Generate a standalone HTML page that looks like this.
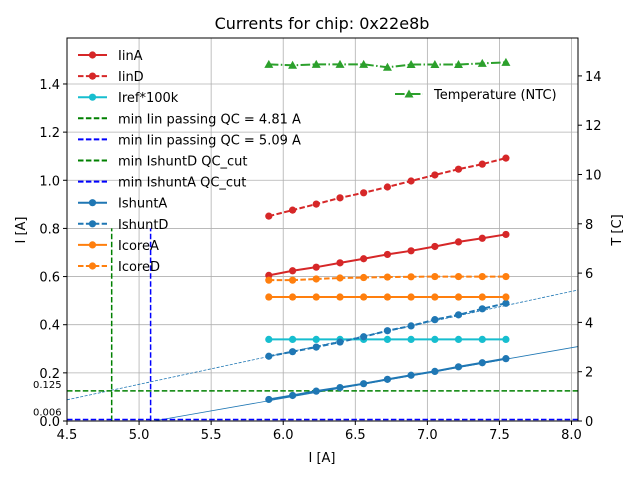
<!DOCTYPE html>
<html><head><meta charset="utf-8"><style>
body{margin:0;background:#fff}
svg text{font-family:"DejaVu Sans","Liberation Sans",sans-serif;fill:#000}
</style></head><body>
<svg id="chart" width="640" height="480" xmlns="http://www.w3.org/2000/svg"></svg>
<script>
const xs=[5.90,6.065,6.229,6.394,6.558,6.723,6.887,7.052,7.216,7.381,7.545];
const iinA=[0.605,0.624,0.639,0.657,0.674,0.692,0.707,0.725,0.744,0.759,0.775];
const iinD=[0.851,0.876,0.901,0.927,0.948,0.972,0.997,1.022,1.046,1.067,1.092];
const iref=[0.339,0.339,0.339,0.339,0.339,0.339,0.339,0.339,0.339,0.339,0.339];
const ishuntA=[0.0895,0.106,0.124,0.139,0.155,0.173,0.190,0.206,0.225,0.242,0.259];
const ishuntD=[0.269,0.288,0.307,0.328,0.350,0.375,0.395,0.421,0.441,0.466,0.489];
const icoreA=[0.515,0.515,0.515,0.515,0.515,0.515,0.515,0.515,0.515,0.515,0.515];
const icoreD=[0.585,0.585,0.59,0.594,0.596,0.598,0.599,0.6,0.6,0.6,0.6];
const temp=[14.47,14.43,14.47,14.47,14.47,14.35,14.46,14.46,14.46,14.51,14.55];
const xTicks=[4.5,5.0,5.5,6.0,6.5,7.0,7.5,8.0];
const yTicks=[0,0.2,0.4,0.6,0.8,1.0,1.2,1.4];
const tTicks=[0,2,4,6,8,10,12,14];
const fitA=[0.105,-0.5355];
const fitD=[0.1287,-0.4912];
const qcX=[4.81,5.08];
const qcY=[0.125,0.006];

const L=67,R=578,T=38,B=421;
const X=v=>L+(v-4.5)*(R-L)/(8.045-4.5);
const Y=v=>B-v*(B-T)/1.591;
const YT=v=>B-v*24.65;
const svg=document.getElementById('chart');
const NS='http://www.w3.org/2000/svg';
function el(tag,at,name,parent){const e=document.createElementNS(NS,tag);for(const k in at)e.setAttribute(k,at[k]);


(parent||svg).appendChild(e);return e;}
function txt(s,x,y,name,extra){const e=el('text',Object.assign({x:x,y:y,'font-size':13},extra||{}),name);e.textContent=s;return e;}

xTicks.forEach(v=>el('line',{x1:X(v),x2:X(v),y1:T,y2:B,stroke:'#b0b0b0','stroke-width':0.8},'x-grid-line'));
yTicks.forEach(v=>el('line',{x1:L,x2:R,y1:Y(v),y2:Y(v),stroke:'#b0b0b0','stroke-width':0.8},'y-grid-line'));

el('line',{x1:X(5.1),y1:Y(fitA[0]*5.1+fitA[1]),x2:X(8.045),y2:Y(fitA[0]*8.045+fitA[1]),stroke:'#1f77b4','stroke-width':0.8},'ishuntA-fit');
el('line',{x1:X(4.5),y1:Y(fitD[0]*4.5+fitD[1]),x2:X(8.045),y2:Y(fitD[0]*8.045+fitD[1]),stroke:'#1f77b4','stroke-width':0.8,'stroke-dasharray':'3,1.5'},'ishuntD-fit');

el('line',{x1:X(qcX[0]),x2:X(qcX[0]),y1:B,y2:Y(0.8),stroke:'green','stroke-width':1.5,'stroke-dasharray':'5.5,2.4'},'qc-vline-green');
el('line',{x1:X(qcX[1]),x2:X(qcX[1]),y1:B,y2:Y(0.8),stroke:'blue','stroke-width':1.5,'stroke-dasharray':'5.5,2.4'},'qc-vline-blue');
el('line',{x1:L,x2:R,y1:Y(qcY[0]),y2:Y(qcY[0]),stroke:'green','stroke-width':1.5,'stroke-dasharray':'5.5,2.4'},'qc-hline-green');
el('line',{x1:L,x2:R,y1:Y(qcY[1]),y2:Y(qcY[1]),stroke:'blue','stroke-width':1.5,'stroke-dasharray':'5.5,2.4'},'qc-hline-blue');
txt('0.125',33,Y(qcY[0])-3,'qc-label-0125',{'font-size':10});
txt('0.006',33,Y(qcY[1])-4,'qc-label-0006',{'font-size':10});

function series(vals,color,dash,name,yf,marker){
  const pts=xs.map((x,i)=>X(x)+','+yf(vals[i])).join(' ');
  el('polyline',{points:pts,fill:'none',stroke:color,'stroke-width':2,'stroke-dasharray':dash||'none'},name+'-line');
  xs.forEach((x,i)=>{
    if(marker==='tri'){const cx=X(x),cy=yf(vals[i]);el('polygon',{points:`${cx},${cy-4.5} ${cx-4.5},${cy+3.5} ${cx+4.5},${cy+3.5}`,fill:color},name+'-point');}
    else el('circle',{cx:X(x),cy:yf(vals[i]),r:3.6,fill:color},name+'-point');
  });
}
series(iinA,'#d62728','', 'iinA',Y);
series(iinD,'#d62728','5.5,2.4','iinD',Y);
series(iref,'#17becf','', 'iref',Y);
series(ishuntA,'#1f77b4','', 'ishuntA',Y);
series(ishuntD,'#1f77b4','5.5,2.4','ishuntD',Y);
series(icoreA,'#ff7f0e','', 'icoreA',Y);
series(icoreD,'#ff7f0e','5.5,2.4','icoreD',Y);
series(temp,'#2ca02c','9.6,2.4,1.5,2.4','temperature',YT,'tri');

el('rect',{x:L,y:T,width:R-L,height:B-T,fill:'none',stroke:'#000','stroke-width':1},'plot-frame');
xTicks.forEach(v=>{el('line',{x1:X(v),x2:X(v),y1:B,y2:B+4,stroke:'#000'},'x-tick');txt(v.toFixed(1),X(v),B+18,'x-tick-label',{'text-anchor':'middle'});});
yTicks.forEach(v=>{el('line',{x1:L-4,x2:L,y1:Y(v),y2:Y(v),stroke:'#000'},'y-tick');txt(v.toFixed(1),L-7,Y(v)+5,'y-tick-label',{'text-anchor':'end'});});
tTicks.forEach(v=>{el('line',{x1:R,x2:R+4,y1:YT(v),y2:YT(v),stroke:'#000'},'t-tick');txt(String(v),R+7,YT(v)+5,'t-tick-label');});

txt('Currents for chip: 0x22e8b',322,29,'chart-title',{'text-anchor':'middle','font-size':16});
txt('I [A]',322,462,'x-axis-title',{'text-anchor':'middle'});
txt('I [A]',25,230,'y-axis-title',{'text-anchor':'middle',transform:'rotate(-90 25 230)'});
txt('T [C]',621,230,'t-axis-title',{'text-anchor':'middle',transform:'rotate(-90 621 230)'});

const legNames=['IinA','IinD','Iref*100k','min Iin passing QC = 4.81 A','min Iin passing QC = 5.09 A','min IshuntD QC_cut','min IshuntA QC_cut','IshuntA','IshuntD','IcoreA','IcoreD'];
const legColors=['#d62728','#d62728','#17becf','green','blue','green','blue','#1f77b4','#1f77b4','#ff7f0e','#ff7f0e'];
const legDash=['','5.5,2.4','','5.5,2.4','5.5,2.4','5.5,2.4','5.5,2.4','','5.5,2.4','','5.5,2.4'];
const legMark=[1,1,1,0,0,0,0,1,1,1,1];
legNames.forEach((n,i)=>{
  const y=55+i*21.1;
  el('line',{x1:78,x2:107,y1:y,y2:y,stroke:legColors[i],'stroke-width':2,'stroke-dasharray':legDash[i]||'none'},'legend-line');
  if(legMark[i])el('circle',{cx:92.5,cy:y,r:3.6,fill:legColors[i]},'legend-marker');
  txt(n,118,y+5,'legend-entry');
});
el('line',{x1:395,x2:423,y1:94,y2:94,stroke:'#2ca02c','stroke-width':2,'stroke-dasharray':'9.6,2.4,1.5,2.4'},'temp-legend-line');
el('polygon',{points:'409,89.5 404.5,97.5 413.5,97.5',fill:'#2ca02c'},'temp-legend-marker');
txt('Temperature (NTC)',434,99,'temp-legend-entry');
</script>
</body></html>
